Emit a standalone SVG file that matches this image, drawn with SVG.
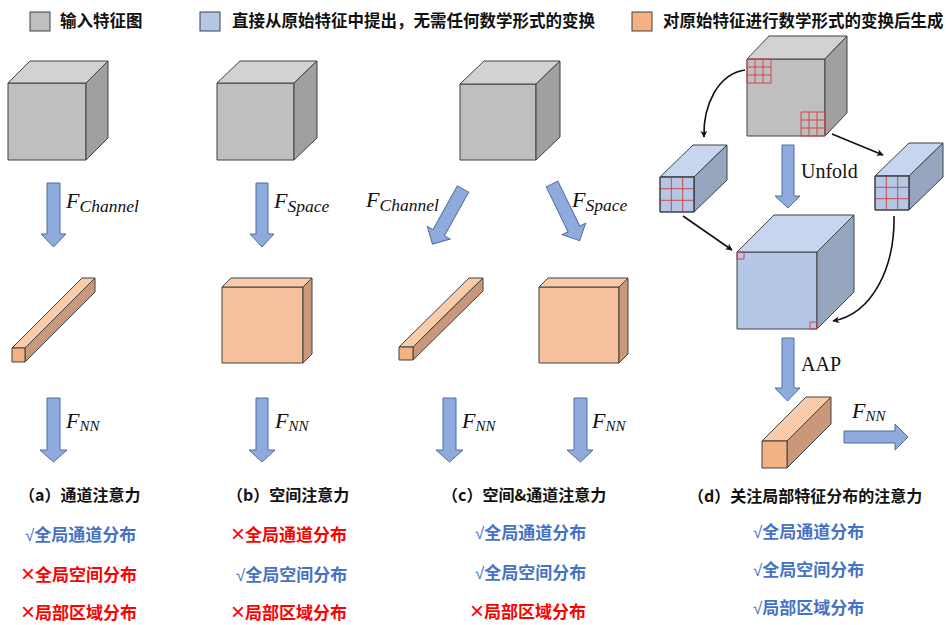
<svg xmlns="http://www.w3.org/2000/svg" width="946" height="625" viewBox="0 0 946 625">
  <defs>
    <style>
      .cjk { font-family: "Noto Sans CJK SC", "Noto Sans", sans-serif; }
      .legend { font-size: 16.5px; font-weight: bold; fill: #111; }
      .cap { font-size: 16px; font-weight: bold; fill: #111; }
      .ok { font-size: 17px; font-weight: bold; fill: #4472C4; }
      .no { font-size: 17px; font-weight: bold; fill: #FF0000; }
      .sym { font-family: "Liberation Sans", sans-serif; font-weight: normal; }
      .x { font-size: 24px; }
      .math { font-family: "Liberation Serif", serif; font-style: italic; fill: #111; }
      .mf { font-size: 22px; }
      .ms { font-size: 17.5px; }
      .mn { font-size: 15px; }
      .lbl { font-family: "Liberation Serif", serif; font-size: 20px; fill: #111; }
      .edge { stroke: #404040; stroke-width: 1; stroke-linejoin: round; }
      .gF { fill: #BFBFBF; } .gT { fill: #D2D2D2; } .gR { fill: #A0A0A0; }
      .oF { fill: #F5C09B; } .oT { fill: #F8CCAB; } .oR { fill: #C9987A; }
      .oF2 { fill: #F4B183; }
      .bF { fill: #B4C7E7; } .bT { fill: #C7D6EE; } .bR { fill: #97A6BF; }
      .arw { fill: #8FAADC; stroke: #4F6E9E; stroke-width: 1; stroke-linejoin: miter; }
      .grid { stroke: #D0474A; stroke-width: 1; fill: none; }
      .link { stroke: #111; stroke-width: 1.6; fill: none; marker-end: url(#head); }
    </style>
    <marker id="head" viewBox="0 0 10 10" refX="9" refY="5" markerWidth="7" markerHeight="7" orient="auto" markerUnits="userSpaceOnUse">
      <path d="M0,0 L10,5 L0,10 L3,5 Z" fill="#111"/>
    </marker>
    <path id="darrow" d="M-6.5,0 H6.5 V50 H13 L0,63 L-13,50 H-6.5 Z"/>
  </defs>

  <rect width="946" height="625" fill="#fff"/>

  <!-- legend -->
  <g id="legend">
    <rect x="30" y="12" width="20" height="19" class="gF" stroke="#404040"/>
    <text x="60" y="27" class="cjk legend">输入特征图</text>
    <rect x="200" y="12" width="20" height="19" class="bF" stroke="#404040"/>
    <text x="232" y="27" class="cjk legend">直接从原始特征中提出，无需任何数学形式的变换</text>
    <rect x="632" y="12" width="20" height="19" class="oF2" stroke="#404040"/>
    <text x="663" y="27" class="cjk legend">对原始特征进行数学形式的变换后生成</text>
  </g>

  <!-- column a: channel attention -->
  <g id="a-input" class="edge">
    <rect x="8" y="83" width="78" height="77" class="gF"/>
    <polygon points="8,83 30,61 108,61 86,83" class="gT"/>
    <polygon points="86,83 108,61 108,138 86,160" class="gR"/>
  </g>
  <g id="a-arrow">
    <path d="M47,183 H60 V234 H66 L53.5,247 L41,234 H47 Z" class="arw"/>
    <text x="66" y="208" class="math"><tspan class="mf">F</tspan><tspan class="ms" dy="4">Channel</tspan></text>
  </g>
  <g id="a-output" class="edge">
    <polygon points="12,348 82,278 95,278 25,348" class="oT"/>
    <polygon points="25,348 95,278 95,292 25,362" class="oR"/>
    <rect x="12" y="348" width="13" height="14" class="oF2"/>
  </g>
  <g id="a-nn">
    <path d="M47,398 H60 V450 H67 L53.5,462 L40,450 H47 Z" class="arw"/>
    <text x="66" y="428" class="math"><tspan class="mf">F</tspan><tspan class="mn" dy="3">NN</tspan></text>
  </g>
  <g id="a-text" class="cjk">
    <text x="19" y="501" class="cap">（a）通道注意力</text>
    <text x="25" y="541" class="ok"><tspan class="sym">√</tspan>全局通道分布</text>
    <text x="21" y="581" class="no"><tspan class="sym x" dy="1">×</tspan><tspan dy="-1">全局空间分布</tspan></text>
    <text x="21" y="619" class="no"><tspan class="sym x" dy="1">×</tspan><tspan dy="-1">局部区域分布</tspan></text>
  </g>

  <!-- column b: spatial attention -->
  <g id="b-input" class="edge">
    <rect x="217" y="83" width="77" height="77" class="gF"/>
    <polygon points="217,83 240,61 317,61 294,83" class="gT"/>
    <polygon points="294,83 317,61 317,138 294,160" class="gR"/>
  </g>
  <g id="b-arrow">
    <path d="M256,183 H268 V234 H274 L262,247 L250,234 H256 Z" class="arw"/>
    <text x="274" y="208" class="math"><tspan class="mf">F</tspan><tspan class="ms" dy="4">Space</tspan></text>
  </g>
  <g id="b-output" class="edge">
    <rect x="222" y="287" width="81" height="76" class="oF"/>
    <polygon points="222,287 231,278 312,278 303,287" class="oT"/>
    <polygon points="303,287 312,278 312,354 303,363" class="oR"/>
  </g>
  <g id="b-nn">
    <path d="M256,398 H268 V450 H275 L262,462 L249,450 H256 Z" class="arw"/>
    <text x="275" y="428" class="math"><tspan class="mf">F</tspan><tspan class="mn" dy="3">NN</tspan></text>
  </g>
  <g id="b-text" class="cjk">
    <text x="227" y="501" class="cap">（b）空间注意力</text>
    <text x="231" y="541" class="no"><tspan class="sym x" dy="1">×</tspan><tspan dy="-1">全局通道分布</tspan></text>
    <text x="236" y="581" class="ok"><tspan class="sym">√</tspan>全局空间分布</text>
    <text x="231" y="619" class="no"><tspan class="sym x" dy="1">×</tspan><tspan dy="-1">局部区域分布</tspan></text>
  </g>

  <!-- column c: spatial & channel attention -->
  <g id="c-input" class="edge">
    <rect x="460" y="84" width="76" height="76" class="gF"/>
    <polygon points="460,84 484,61 560,61 536,84" class="gT"/>
    <polygon points="536,84 560,61 560,137 536,160" class="gR"/>
  </g>
  <g id="c-arrow-channel">
    <use href="#darrow" transform="translate(463,189) rotate(29)" class="arw"/>
    <text x="366" y="207" class="math"><tspan class="mf">F</tspan><tspan class="ms" dy="4">Channel</tspan></text>
  </g>
  <g id="c-arrow-space">
    <use href="#darrow" transform="translate(552,184) rotate(-26)" class="arw"/>
    <text x="572" y="207" class="math"><tspan class="mf">F</tspan><tspan class="ms" dy="4">Space</tspan></text>
  </g>
  <g id="c-output-channel" class="edge">
    <polygon points="399,347 469,278 483,278 413,347" class="oT"/>
    <polygon points="413,347 483,278 483,291 413,360" class="oR"/>
    <rect x="399" y="347" width="14" height="13" class="oF2"/>
  </g>
  <g id="c-output-space" class="edge">
    <rect x="539" y="287" width="80" height="76" class="oF"/>
    <polygon points="539,287 548,278 628,278 619,287" class="oT"/>
    <polygon points="619,287 628,278 628,354 619,363" class="oR"/>
  </g>
  <g id="c-nn">
    <path d="M443,398 H456 V450 H463 L449.5,462 L436,450 H443 Z" class="arw"/>
    <text x="462" y="428" class="math"><tspan class="mf">F</tspan><tspan class="mn" dy="3">NN</tspan></text>
    <path d="M574,398 H587 V450 H593 L580.5,462 L567,450 H574 Z" class="arw"/>
    <text x="592" y="428" class="math"><tspan class="mf">F</tspan><tspan class="mn" dy="3">NN</tspan></text>
  </g>
  <g id="c-text" class="cjk">
    <text x="442" y="501" class="cap">（c）空间&amp;通道注意力</text>
    <text x="475" y="539" class="ok"><tspan class="sym">√</tspan>全局通道分布</text>
    <text x="475" y="579" class="ok"><tspan class="sym">√</tspan>全局空间分布</text>
    <text x="470" y="618" class="no"><tspan class="sym x" dy="1">×</tspan><tspan dy="-1">局部区域分布</tspan></text>
  </g>

  <!-- column d: local-distribution attention -->
  <g id="d-input" class="edge">
    <rect x="747" y="59" width="78" height="77" class="gF"/>
    <polygon points="747,59 769,36 847,36 825,59" class="gT"/>
    <polygon points="825,59 847,36 847,113 825,136" class="gR"/>
    <path d="M747,59 h24 v24 h-24 Z M755,59 v24 M763,59 v24 M747,67 h24 M747,75 h24" class="grid"/>
    <path d="M801,112 h24 v24 h-24 Z M809,112 v24 M817,112 v24 M801,120 h24 M801,128 h24" class="grid"/>
  </g>
  <g id="d-patch-left" class="edge">
    <polygon points="660,177 693,145 727,145 694,177" class="bT"/>
    <polygon points="694,177 727,145 727,180 694,212" class="bR"/>
    <rect x="660" y="177" width="34" height="35" class="bF"/>
    <path d="M671.3,177 v35 M682.7,177 v35 M660,188.7 h34 M660,200.3 h34" class="grid"/>
    <rect x="660" y="177" width="34" height="35" fill="none"/>
  </g>
  <g id="d-patch-right" class="edge">
    <polygon points="875,176 909,143 943,143 909,176" class="bT"/>
    <polygon points="909,176 943,143 943,177 909,210" class="bR"/>
    <rect x="875" y="176" width="34" height="34" class="bF"/>
    <path d="M886.3,176 v34 M897.7,176 v34 M875,187.3 h34 M875,198.7 h34" class="grid"/>
    <rect x="875" y="176" width="34" height="34" fill="none"/>
  </g>
  <g id="d-unfold">
    <path d="M782,145 H794 V196 H800 L788,208 L775,196 H782 Z" class="arw"/>
    <text x="801" y="178" class="lbl">Unfold</text>
  </g>
  <g id="d-unfolded" class="edge">
    <rect x="737" y="252" width="80" height="77" class="bF"/>
    <polygon points="737,252 774,215 854,215 817,252" class="bT"/>
    <polygon points="817,252 854,215 854,292 817,329" class="bR"/>
    <rect x="737" y="252" width="7" height="7" class="grid"/>
    <rect x="810" y="322" width="7" height="7" class="grid"/>
  </g>
  <g id="d-aap">
    <path d="M782,338 H794 V388 H800 L787.5,401 L775,388 H782 Z" class="arw"/>
    <text x="801" y="371" class="lbl">AAP</text>
  </g>
  <g id="d-output" class="edge">
    <polygon points="762,441 806,397 831,397 787,441" class="oT"/>
    <polygon points="787,441 831,397 831,424 787,468" class="oR"/>
    <rect x="762" y="441" width="25" height="27" class="oF2"/>
  </g>
  <g id="d-nn">
    <path d="M844,431 H895 V424 L908,437 L895,450 V443 H844 Z" class="arw"/>
    <text x="852" y="418" class="math"><tspan class="mf">F</tspan><tspan class="mn" dy="3">NN</tspan></text>
  </g>
  <g id="d-text" class="cjk">
    <text x="688" y="502" class="cap">（d）关注局部特征分布的注意力</text>
    <text x="753" y="538" class="ok"><tspan class="sym">√</tspan>全局通道分布</text>
    <text x="753" y="576" class="ok"><tspan class="sym">√</tspan>全局空间分布</text>
    <text x="753" y="614" class="ok"><tspan class="sym">√</tspan>局部区域分布</text>
  </g>

  <!-- patch extraction connectors -->
  <g id="connectors">
    <path d="M745,70 C718,74 703,105 704,137" class="link"/>
    <path d="M832,134 L883,155" class="link"/>
    <path d="M683,216 L732,250" class="link"/>
    <path d="M894,216 C895,268 872,314 833,321" class="link"/>
  </g>
</svg>
